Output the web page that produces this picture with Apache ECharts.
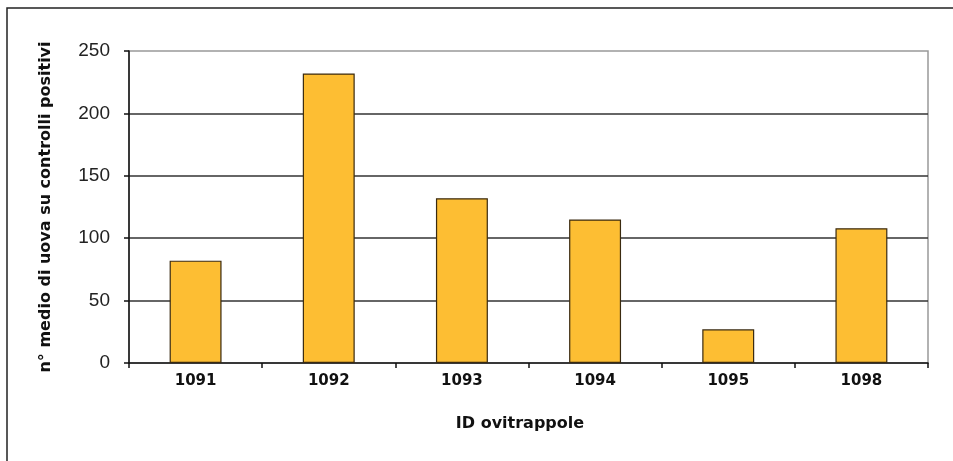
<!DOCTYPE html>
<html>
<head>
<meta charset="utf-8">
<script src="https://cdn.jsdelivr.net/npm/echarts@6/dist/echarts.min.js"></script>
<style>html,body{margin:0;padding:0;background:#fff}#c{width:953px;height:461px}</style>
</head>
<body>
<div id="c"></div>
<script>
const categories = ['1091', '1092', '1093', '1094', '1095', '1098'];
const values = [82, 232, 132, 115, 27, 108];
const yTicks = [0, 50, 100, 150, 200, 250];
const xTitle = 'ID ovitrappole';
const yTitle = 'n° medio di uova su controlli positivi';

const chart = echarts.init(document.getElementById('c'), null, {renderer: 'canvas'});
chart.setOption({
  animation: false,
  backgroundColor: '#fff',
  grid: {left: 129, right: 25, top: 51, bottom: 98, show: true, borderColor: '#999', borderWidth: 1.5, backgroundColor: 'transparent'},
  graphic: [{
    type: 'rect', shape: {x: 7, y: 8, width: 980, height: 480},
    style: {fill: 'none', stroke: '#222', lineWidth: 1.5}, z: -1
  }],
  title: {
    text: xTitle, left: 515, top: 411, textAlign: 'center',
    textStyle: {fontFamily: 'DejaVu Sans', fontWeight: 'bold', fontSize: 16, color: '#111'}
  },
  xAxis: {
    type: 'category', data: categories,
    axisLine: {lineStyle: {color: '#111', width: 1.5}},
    axisTick: {show: true, length: 5, lineStyle: {color: '#111', width: 1.5}},
    axisLabel: {margin: 11, fontFamily: 'DejaVu Sans', fontWeight: 'bold', fontSize: 15, color: '#111'},
    splitLine: {show: false}
  },
  yAxis: {
    type: 'value', min: 0, max: 250, interval: 50,
    name: yTitle, nameLocation: 'middle', nameGap: 75, nameRotate: 90,
    nameTextStyle: {fontFamily: 'DejaVu Sans', fontWeight: 'bold', fontSize: 16, color: '#111'},
    axisLine: {show: true, lineStyle: {color: '#111', width: 1.5}},
    axisTick: {show: true, length: 5, lineStyle: {color: '#111', width: 1.5}},
    axisLabel: {margin: 19, fontFamily: 'Liberation Sans, Arial', fontSize: 19, color: '#222',
      formatter: v => yTicks.includes(v) ? String(v) : ''},
    splitLine: {show: true, showMinLine: false, showMaxLine: false, lineStyle: {color: '#333', width: 1.5}}
  },
  series: [{
    type: 'bar', data: values, barWidth: '39%',
    itemStyle: {color: '#FDBE33', borderColor: '#3a2a10', borderWidth: 1.2}
  }]
});
</script>
</body>
</html>
